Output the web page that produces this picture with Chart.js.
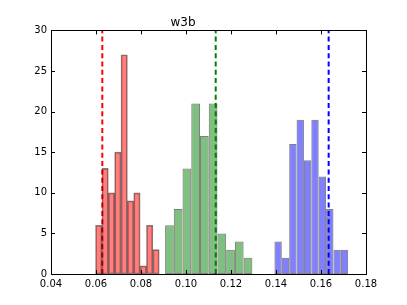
<!DOCTYPE html>
<html>
<head>
<meta charset="utf-8">
<script src="https://cdn.jsdelivr.net/npm/chart.js@4/dist/chart.umd.min.js"></script>
<style>
  html, body { margin: 0; padding: 0; background: #fff; }
  #wrap { width: 407px; height: 305px; }
</style>
</head>
<body>
<div id="wrap"><canvas id="chartHist"></canvas></div>
<script>
// histogram bins: first bin edge, bin width, counts
const redStart = 0.0598;
const redWidth = 0.00283;
const redCounts = [6, 13, 10, 15, 27, 9, 10, 1, 6, 3];

const greenStart = 0.0907;
const greenWidth = 0.00388;
const greenCounts = [6, 8, 13, 21, 17, 21, 5, 3, 4, 2];

const blueStart = 0.1393;
const blueWidth = 0.00328;
const blueCounts = [4, 2, 16, 19, 14, 19, 12, 8, 3, 3];

// dashed reference lines
const markerValues = [0.0628, 0.1132, 0.1634];
const markerColors = ["#ff0000", "#008000", "#0000ff"];

const xTicks = [0.04, 0.06, 0.08, 0.10, 0.12, 0.14, 0.16, 0.18];
const yTicks = [0, 5, 10, 15, 20, 25, 30];

const FONT = "'DejaVu Sans', sans-serif";

// Chart.js sizes bars from the narrowest bin spacing on the axis (red here),
// so wider bins get a proportionally larger barPercentage
const narrowest = Math.min(redWidth, greenWidth, blueWidth);

function binPoints(start, width, counts) {
  return counts.map((c, i) => ({ x: start + width * (i + 0.5), y: c }));
}

function barSet(label, start, width, counts, fill) {
  return {
    type: "bar",
    label,
    data: binPoints(start, width, counts),
    backgroundColor: fill,
    borderColor: "rgba(0,0,0,0.5)",
    borderWidth: 1,
    borderSkipped: false,
    grouped: false,
    categoryPercentage: 1,
    barPercentage: width / narrowest,
  };
}

function markerSet(value, color) {
  return {
    type: "line",
    data: [{ x: value, y: 0 }, { x: value, y: 30 }],
    borderColor: color,
    borderWidth: 2,
    borderDash: [5, 3.3],
    pointRadius: 0,
    fill: false,
  };
}

// matplotlib-style frame with inward ticks on all four sides
const framePlugin = {
  id: "frame",
  afterDraw(chart) {
    const { ctx, chartArea: a, scales } = chart;
    ctx.save();
    ctx.strokeStyle = "#000";
    ctx.lineWidth = 1;
    ctx.beginPath();
    xTicks.forEach((v) => {
      const px = Math.round(scales.x.getPixelForValue(v)) + 0.5;
      ctx.moveTo(px, a.bottom); ctx.lineTo(px, a.bottom - 4);
      ctx.moveTo(px, a.top); ctx.lineTo(px, a.top + 4);
    });
    yTicks.forEach((v) => {
      const py = Math.round(scales.y.getPixelForValue(v)) + 0.5;
      ctx.moveTo(a.left, py); ctx.lineTo(a.left + 4, py);
      ctx.moveTo(a.right, py); ctx.lineTo(a.right - 4, py);
    });
    ctx.stroke();
    ctx.strokeRect(Math.round(a.left) + 0.5, Math.round(a.top) + 0.5,
      Math.round(a.right - a.left), Math.round(a.bottom - a.top));
    ctx.restore();
  },
};

new Chart(document.getElementById("chartHist").getContext("2d"), {
  data: {
    datasets: [
      barSet("red", redStart, redWidth, redCounts, "rgba(255,0,0,0.5)"),
      barSet("green", greenStart, greenWidth, greenCounts, "rgba(0,128,0,0.5)"),
      barSet("blue", blueStart, blueWidth, blueCounts, "rgba(0,0,255,0.5)"),
      ...markerValues.map((v, i) => markerSet(v, markerColors[i])),
    ],
  },
  options: {
    responsive: true,
    maintainAspectRatio: false,
    animation: false,
    layout: { padding: { left: 0, right: 41, top: 0, bottom: 0 } },
    scales: {
      x: {
        type: "linear",
        min: 0.04,
        max: 0.18,
        offset: false,
        afterBuildTicks: (s) => { s.ticks = xTicks.map((v) => ({ value: v })); },
        afterFit: (s) => { s.height = 31; },
        ticks: {
          color: "#000",
          padding: 4,
          font: { family: FONT, size: 10 },
          maxRotation: 0,
          callback: (v) => Number(v).toFixed(2),
        },
        grid: { display: false, drawTicks: false, offset: false },
        border: { display: false },
      },
      y: {
        type: "linear",
        min: 0,
        max: 30,
        afterBuildTicks: (s) => { s.ticks = yTicks.map((v) => ({ value: v })); },
        afterFit: (s) => { s.width = 51; },
        ticks: {
          color: "#000",
          padding: 4,
          font: { family: FONT, size: 10 },
        },
        grid: { display: false, drawTicks: false },
        border: { display: false },
      },
    },
    plugins: {
      legend: { display: false },
      tooltip: { enabled: false },
      title: {
        display: true,
        text: "w3b",
        color: "#000",
        font: { family: FONT, size: 12, weight: "normal" },
        padding: { top: 16, bottom: 0 },
      },
    },
  },
  plugins: [framePlugin],
});
</script>
</body>
</html>
